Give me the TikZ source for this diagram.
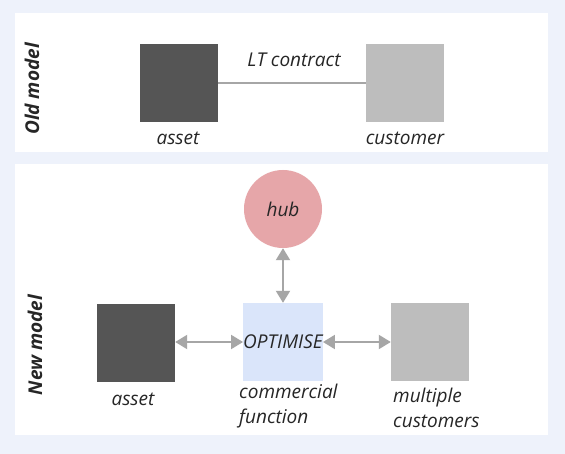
\documentclass[tikz,border=0pt]{standalone}
\usepackage{fontspec}
\setmainfont{Open Sans}
\usetikzlibrary{arrows.meta}
\definecolor{bgblue}{HTML}{EEF2FB}
\definecolor{darkbox}{HTML}{555555}
\definecolor{lightbox}{HTML}{BDBDBD}
\definecolor{hubred}{HTML}{E6A6A9}
\definecolor{optblue}{HTML}{DAE5FA}
\definecolor{linegray}{HTML}{A6A6A6}
\definecolor{txt}{HTML}{262626}
\tikzset{
  panel/.style={fill=white, draw=none},
  sqbox/.style={minimum width=78pt, minimum height=78pt, inner sep=0pt, draw=none},
  lbl/.style={font=\fontsize{19}{25}\selectfont\itshape, text=txt, inner sep=0pt},
  side/.style={font=\fontsize{19}{22}\selectfont\bfseries\itshape, text=txt, rotate=90, inner sep=0pt},
  conn/.style={draw=linegray, line width=2pt},
  biarrow/.style={conn, {Triangle[width=14pt,length=12pt]}-{Triangle[width=14pt,length=12pt]}}
}
\begin{document}
\begin{tikzpicture}[x=1pt,y=-1pt]
\fill[bgblue] (0,0) rectangle (565,454);
\useasboundingbox (0,0) rectangle (565,454);
\fill[panel] (15,13) rectangle (548,152);
\fill[panel] (15,164) rectangle (548,435);
% old model
\node[side] (oldm) at (32,89) {Old model};
\node[sqbox, fill=darkbox] (a1) at (179,83) {};
\node[sqbox, fill=lightbox] (c1) at (405,83) {};
\draw[conn] (a1.east) -- (c1.west);
\node[lbl] (lt) at (294,60) {LT contract};
\node[lbl] (a1l) at (178,138) {asset};
\node[lbl] (c1l) at (405,138) {customer};
% new model
\node[side] (newm) at (35,345) {New model};
\node[circle, fill=hubred, minimum size=78pt, inner sep=0pt, lbl] (hub) at (283,209) {hub};
\node[sqbox, fill=optblue, lbl] (opt) at (283,342) {OPTIMISE};
\node[sqbox, fill=darkbox] (a2) at (136,343) {};
\node[sqbox, fill=lightbox] (c2) at (430,342) {};
\draw[biarrow] (hub.south) -- (opt.north);
\draw[biarrow] (a2.east |- opt.center) -- (opt.west);
\draw[biarrow] (opt.east) -- (c2.west);
\node[lbl] (a2l) at (133,399) {asset};
\node[lbl, anchor=west, align=left] (cfl) at (239,406) {commercial\\function};
\node[lbl, anchor=west, align=left] (mcl) at (393,408) {multiple\\customers};
\end{tikzpicture}
\end{document}
